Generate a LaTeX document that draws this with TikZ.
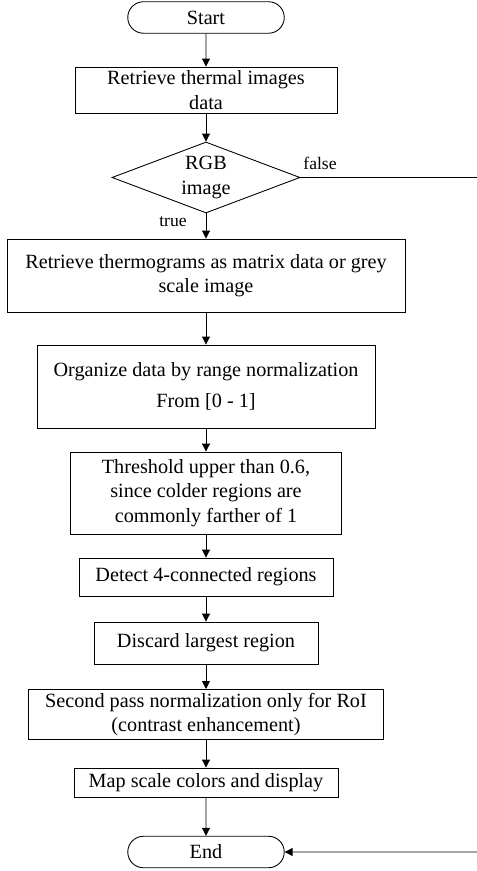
\documentclass[tikz,border=0pt]{standalone}
\usepackage{fontspec}
\setmainfont{Liberation Serif}
\usetikzlibrary{shapes.misc,shapes.geometric,arrows.meta}

\begin{document}
\begin{tikzpicture}[
    line width=0.5pt,
    every node/.style={font=\fontsize{11.5}{14}\selectfont},
    block/.style={draw, rectangle, align=center, inner sep=2pt},
    term/.style={draw, rounded rectangle, minimum width=3.2cm, minimum height=0.63cm, inner sep=1pt},
    decide/.style={draw, diamond, align=center, inner sep=0pt, aspect=2.65, minimum width=3.76cm, minimum height=1.42cm},
    flow/.style={-{Triangle[length=4.5pt,width=4.5pt]}},
    lbl/.style={font=\fontsize{10}{12}\selectfont, inner sep=0pt}
]
    \useasboundingbox (0,0) rectangle (9.54,-17.42);

    % start
    \node[term] (start) at (4.12,-0.35) {Start};
    % 1
    \node[block, minimum width=5.24cm, minimum height=0.92cm] (read) at (4.12,-1.80) {Retrieve thermal images\\data};
    % 2
    \node[decide] (rgb) at (4.12,-3.55) {RGB\\image};
    \node[lbl] (lfalse) at (6.40,-3.26) {false};
    \coordinate (fr) at (9.54,-3.55);
    % 3
    \node[block, minimum width=7.96cm, minimum height=1.46cm] (gray) at (4.12,-5.51) {Retrieve thermograms as matrix data or grey\\scale image};
    \node[lbl] (ltrue) at (3.46,-4.44) {true};
    % 4
    \node[block, minimum width=6.76cm, minimum height=1.66cm] (norm) at (4.12,-7.73) {Organize data by range normalization\\[4pt]From [0 - 1]};
    % 5
    \node[block, minimum width=5.42cm, minimum height=1.64cm] (thr) at (4.12,-9.86) {Threshold upper than 0.6,\\since colder regions are\\commonly farther of 1};
    % 6
    \node[block, minimum width=5.08cm, minimum height=0.76cm] (conn) at (4.12,-11.54) {Detect 4-connected regions};
    % 7
    \node[block, minimum width=4.48cm, minimum height=0.84cm] (disc) at (4.12,-12.86) {Discard largest region};
    % 8
    \node[block, minimum width=7.10cm, minimum height=0.94cm] (roi) at (4.12,-14.29) {Second pass normalization only for RoI\\(contrast enhancement)};
    % 9
    \node[block, minimum width=5.28cm, minimum height=0.58cm] (map) at (4.12,-15.65) {Map scale colors and display};
    % end
    \node[term] (end) at (4.12,-17.04) {End};
    \coordinate (er) at (9.54,-17.04);

    % Edges
    \draw[flow] (start) -- (read);
    \draw[flow] (read) -- (rgb);
    \draw[flow] (rgb) -- (gray);
    \draw (rgb.east) -- (fr);
    \draw[flow] (gray) -- (norm);
    \draw[flow] (norm) -- (thr);
    \draw[flow] (thr) -- (conn);
    \draw[flow] (conn) -- (disc);
    \draw[flow] (disc) -- (roi);
    \draw[flow] (roi) -- (map);
    \draw[flow] (map) -- (end);
    \draw[flow] (er) -- (end);

\end{tikzpicture}
\end{document}
